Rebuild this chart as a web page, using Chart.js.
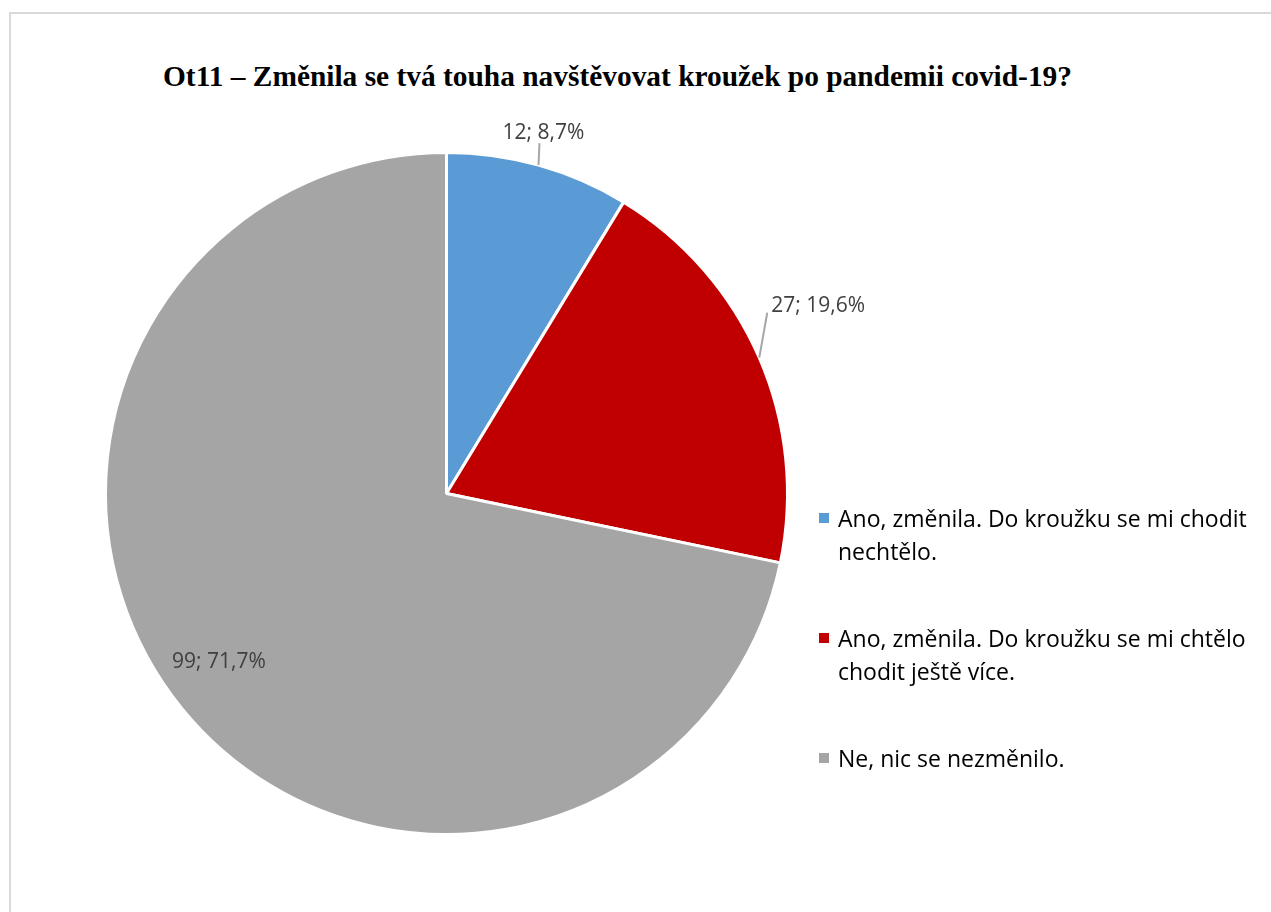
<!DOCTYPE html>
<html>
<head>
<meta charset="utf-8">
<script src="https://cdn.jsdelivr.net/npm/chart.js@4.4.1/dist/chart.umd.min.js"></script>
<style>
  body { margin: 0; background: #fff; width: 1271px; height: 912px; overflow: hidden; position: relative; }
  #frame { position: absolute; left: 9px; top: 12px; width: 1300px; height: 950px; border: 2px solid #d9d9d9; }
  #title { position: absolute; left: 163px; top: 60px; font-family: "Liberation Serif", serif; font-weight: bold; font-size: 29.4px; color: #000; white-space: nowrap; }
  canvas { position: absolute; left: 0; top: 0; }
  .item { position: absolute; left: 819px; font-family: "Open Sans", sans-serif; font-size: 23px; line-height: 33px; color: #000; }
  .item span.box { position: absolute; left: 0; top: 11px; width: 10px; height: 10px; }
  .item div { margin-left: 19px; white-space: nowrap; }
</style>
</head>
<body>
<div id="frame"></div>
<div id="title"></div>
<canvas id="myChart" width="1271" height="912"></canvas>
<div id="legend"></div>
<script>
// chart data
const chartTitle = "Ot11 – Změnila se tvá touha navštěvovat kroužek po pandemii covid-19?";
const categories = [
  ["Ano, změnila. Do kroužku se mi chodit", "nechtělo."],
  ["Ano, změnila. Do kroužku se mi chtělo", "chodit ještě více."],
  ["Ne, nic se nezměnilo."]
];
const counts = [12, 27, 99];
const colors = ["#5B9BD5", "#C00000", "#A5A5A5"];

// label placement: leader line offset from slice edge, or inside
const labelPlace = [
  { type: "outside", dx: 1, dy: -22, align: "center" },
  { type: "outside", dx: 8, dy: -45, align: "left" },
  { type: "inside", r: 0.83 }
];

document.getElementById("title").textContent = chartTitle;

// legend
let legend = document.getElementById("legend");
categories.forEach(function (lines, i) {
  let item = document.createElement("div");
  item.className = "item";
  item.style.top = (502 + i * 120) + "px";
  let box = document.createElement("span");
  box.className = "box";
  box.style.background = colors[i];
  item.appendChild(box);
  lines.forEach(function (l) {
    let d = document.createElement("div");
    d.textContent = l;
    item.appendChild(d);
  });
  legend.appendChild(item);
});

// data labels drawn on the arcs
const pieLabels = {
  id: "pieLabels",
  afterDatasetsDraw(chart) {
    const ctx = chart.ctx;
    const meta = chart.getDatasetMeta(0);
    const total = counts.reduce((a, b) => a + b, 0);
    ctx.save();
    ctx.font = "21px 'Open Sans', sans-serif";
    ctx.fillStyle = "#404040";
    meta.data.forEach(function (arc, i) {
      const p = arc.getProps(["x", "y", "startAngle", "endAngle", "outerRadius"], true);
      const mid = (p.startAngle + p.endAngle) / 2;
      const pct = (counts[i] / total * 100).toFixed(1).replace(".", ",");
      const text = counts[i] + "; " + pct + "%";
      const place = labelPlace[i];
      if (place.type === "inside") {
        const r = p.outerRadius * place.r;
        ctx.textAlign = "center";
        ctx.textBaseline = "middle";
        ctx.fillText(text, p.x + Math.cos(mid) * r - 8, p.y + Math.sin(mid) * r - 10);
      } else {
        const ex = p.x + Math.cos(mid) * p.outerRadius;
        const ey = p.y + Math.sin(mid) * p.outerRadius;
        const lx = ex + place.dx;
        const ly = ey + place.dy;
        ctx.strokeStyle = "#a6a6a6";
        ctx.lineWidth = 2;
        ctx.beginPath();
        ctx.moveTo(ex, ey);
        ctx.lineTo(lx, ly);
        ctx.stroke();
        if (place.align === "center") {
          ctx.textAlign = "center";
          ctx.textBaseline = "bottom";
          ctx.fillText(text, lx + 4, ly);
        } else {
          ctx.textAlign = "left";
          ctx.textBaseline = "middle";
          ctx.fillText(text, lx + 4, ly - 7);
        }
      }
    });
    ctx.restore();
  }
};

new Chart("myChart", {
  type: "pie",
  data: {
    labels: categories.map(c => c.join(" ")),
    datasets: [{
      data: counts,
      backgroundColor: colors,
      borderColor: "#ffffff",
      borderWidth: 3
    }]
  },
  options: {
    responsive: false,
    animation: false,
    layout: { padding: { left: 104, right: 482, top: 151, bottom: 76 } },
    plugins: {
      legend: { display: false },
      tooltip: { enabled: false }
    }
  },
  plugins: [pieLabels]
});
</script>
</body>
</html>
